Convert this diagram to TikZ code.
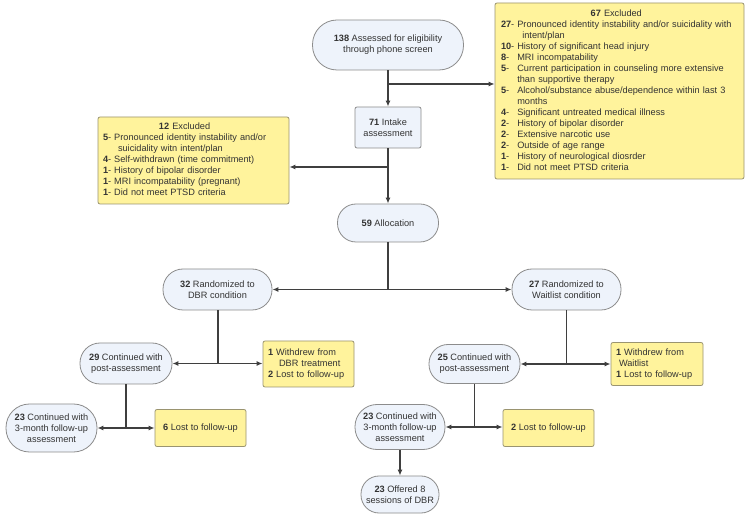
\documentclass[tikz,border=0pt]{standalone}
\usepackage{fontspec}
\setmainfont{Liberation Sans}
\usetikzlibrary{arrows.meta}
\definecolor{bluefill}{HTML}{EEF3FB}
\definecolor{yellowfill}{HTML}{FFF39C}
\definecolor{bordergray}{HTML}{8C8C8C}
\definecolor{ybord}{HTML}{9A9470}
\definecolor{linegray}{HTML}{3F3F3F}
\definecolor{txt}{HTML}{333333}
\begin{document}
\begin{tikzpicture}[x=1pt,y=-1pt,
  font=\fontsize{9.2}{11}\selectfont, text=txt,
  stad/.style={rectangle, draw=bordergray, fill=bluefill, line width=0.8pt, inner sep=0pt, align=center},
  bbox/.style={rectangle, rounded corners=2pt, draw=bordergray, fill=bluefill, line width=0.8pt, inner sep=0pt, align=center},
  ybox/.style={rectangle, rounded corners=2pt, draw=ybord, fill=yellowfill, line width=0.8pt, inner ysep=0pt},
  arr/.style={-{Latex[length=6pt,width=5pt]}, draw=linegray, line width=1.3pt},
  ln/.style={draw=linegray, line width=1.3pt}]
\useasboundingbox (0,0) rectangle (750,518);
\fill[white] (0,0) rectangle (750,518);

% main column
\node[stad, minimum width=151pt, minimum height=50pt, rounded corners=24.5pt] (n138) at (388,45)
  {\textbf{138} Assessed for eligibility\\through phone screen};
\node[bbox, minimum width=66pt, minimum height=41pt] (n71) at (388,127.5)
  {\textbf{71} Intake\\assessment};
\node[stad, minimum width=101pt, minimum height=38pt, rounded corners=18.5pt] (n59) at (388,223)
  {\textbf{59} Allocation};

% exclusion boxes
\node[ybox, minimum height=176pt, text width=237pt, inner xsep=6pt, align=left] (ex67) at (619.5,91)
  {\begin{tabular}{@{}l@{\hspace{3pt}}l@{}}
  \multicolumn{2}{c}{\textbf{67} Excluded}\\
  \textbf{27}- & Pronounced identity instability and/or suicidality with\\
   & \hspace{5pt}intent/plan\\
  \textbf{10}- & History of significant head injury\\
  \textbf{8}- & MRI incompatability\\
  \textbf{5}- & Current participation in counseling more extensive\\
   & than supportive therapy\\
  \textbf{5}- & Alcohol/substance abuse/dependence within last 3\\
   & months\\
  \textbf{4}- & Significant untreated medical illness\\
  \textbf{2}- & History of bipolar disorder\\
  \textbf{2}- & Extensive narcotic use\\
  \textbf{2}- & Outside of age range\\
  \textbf{1}- & History of neurological diosrder\\
  \textbf{1}- & Did not meet PTSD criteria
  \end{tabular}};
\node[ybox, minimum height=87pt, text width=181pt, inner xsep=5pt, align=left] (ex12) at (193.5,160.5)
  {\begin{tabular}{@{}l@{}}
  \multicolumn{1}{c}{\textbf{12} Excluded}\\
  \textbf{5}- Pronounced identity instability and/or\\
  \hspace{15pt}suicidality witn intent/plan\\
  \textbf{4}- Self-withdrawn (time commitment)\\
  \textbf{1}- History of bipolar disorder\\
  \textbf{1}- MRI incompatability (pregnant)\\
  \textbf{1}- Did not meet PTSD criteria
  \end{tabular}};

% randomisation
\node[stad, minimum width=109pt, minimum height=41pt, rounded corners=20pt] (n32) at (217.5,289.5)
  {\textbf{32} Randomized to\\DBR condition};
\node[stad, minimum width=109pt, minimum height=41pt, rounded corners=20pt] (n27) at (566.5,289.5)
  {\textbf{27} Randomized to\\Waitlist condition};

% DBR arm
\node[stad, minimum width=92pt, minimum height=41pt, rounded corners=20pt] (n29) at (126,363.5)
  {\textbf{29} Continued with\\post-assessment};
\node[ybox, minimum height=46pt, text width=81pt, inner xsep=5pt, align=left] (wdbr) at (308.5,364)
  {\textbf{1} Withdrew from\\\hspace{11pt}DBR treatment\\\textbf{2} Lost to follow-up};
\node[stad, minimum width=91pt, minimum height=48pt, rounded corners=23.5pt] (n23a) at (51.5,428)
  {\textbf{23} Continued with\\3-month follow-up\\assessment};
\node[ybox, minimum width=91pt, minimum height=37pt, inner xsep=0pt] (l6) at (200.5,428)
  {\textbf{6} Lost to follow-up};

% Waitlist arm
\node[stad, minimum width=91pt, minimum height=39pt, rounded corners=19pt] (n25) at (474.5,364)
  {\textbf{25} Continued with\\post-assessment};
\node[ybox, minimum height=43pt, text width=82pt, inner xsep=5pt, align=left] (wwl) at (657,364)
  {\textbf{1} Withdrew from\\\hspace{3pt}Waitlist\\\textbf{1} Lost to follow-up};
\node[stad, minimum width=90pt, minimum height=45pt, rounded corners=22pt] (n23b) at (400,427)
  {\textbf{23} Continued with\\3-month follow-up\\assessment};
\node[ybox, minimum width=91pt, minimum height=37pt, inner xsep=0pt] (l2) at (548.5,428)
  {\textbf{2} Lost to follow-up};
\node[stad, minimum width=78pt, minimum height=37pt, rounded corners=18pt] (n24) at (400,494.5)
  {\textbf{23} Offered 8\\sessions of DBR};

% connectors
\coordinate (j1) at (388,84);
\coordinate (j2) at (388,167);
\coordinate (j3) at (388,289.5);
\coordinate (j4) at (218,363.5);
\coordinate (j5) at (126,428);
\coordinate (j6) at (566.5,364);
\coordinate (j7) at (474.5,427);

\draw[arr] (n138.south) -- (n71.north);
\draw[arr] (j1) -- (j1 -| ex67.west);
\draw[arr] (n71.south) -- (n59.north);
\draw[arr] (j2) -- (j2 -| ex12.east);

\draw[ln] (n59.south) -- (j3);
\draw[arr] (j3) -- (n32.east);
\draw[arr] (j3) -- (n27.west);

\draw[ln] (j4 |- n32.south) -- (j4);
\draw[arr] (j4) -- (n29.east);
\draw[arr] (j4) -- (j4 -| wdbr.west);

\draw[ln] (n29.south) -- (j5);
\draw[arr] (j5) -- (n23a.east);
\draw[arr] (j5) -- (l6.west);

\draw[ln] (n27.south) -- (j6);
\draw[arr] (j6) -- (n25.east);
\draw[arr] (j6) -- (wwl.west);

\draw[ln] (n25.south) -- (j7);
\draw[arr] (j7) -- (n23b.east);
\draw[arr] (j7) -- (j7 -| l2.west);

\draw[arr] (n23b.south) -- (n24.north);
\end{tikzpicture}
\end{document}
